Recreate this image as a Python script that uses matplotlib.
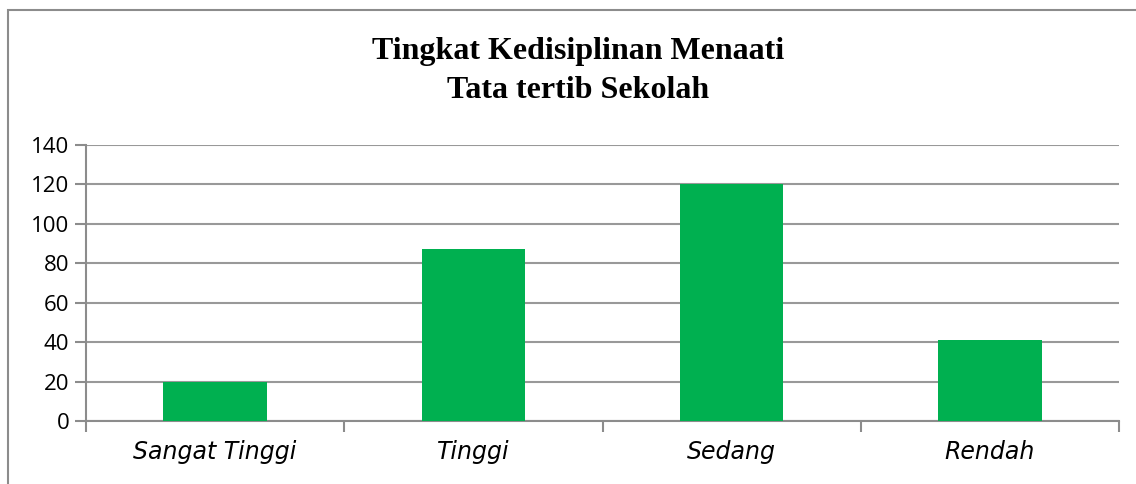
import matplotlib
matplotlib.use("Agg")
import matplotlib.pyplot as plt
from matplotlib.patches import Rectangle

kategori = ["Sangat Tinggi", "Tinggi", "Sedang", "Rendah"]
jumlah = [20, 87, 120, 41]
yticks = [0, 20, 40, 60, 80, 100, 120, 140]

fig = plt.figure(figsize=(11.36, 4.84), dpi=100)
ax = fig.add_axes([86 / 1136, 1 - 421 / 484, (1119 - 86) / 1136, (421 - 145) / 484])

# bingkai grafik
fig.patches.append(Rectangle((8 / 1136, -0.1), 1.2, 1 - 10 / 484 + 0.1,
                             transform=fig.transFigure, fill=False,
                             edgecolor="#8c8c8c", linewidth=1.5))

x = range(len(kategori))
ax.bar(x, jumlah, width=0.4, color="#00b050", zorder=3)
ax.set_xlim(-0.5, len(kategori) - 0.5)
ax.set_ylim(0, 140)
ax.set_yticks(yticks)
ax.set_yticklabels([str(v) for v in yticks], fontsize=16, fontfamily="Open Sans")
ax.yaxis.grid(True, color="#999999", linewidth=1.5, zorder=0)

ax.set_xticks([i - 0.5 for i in range(len(kategori) + 1)], minor=False)
ax.set_xticklabels([])
ax.set_xticks(list(x), minor=True)
ax.set_xticklabels(kategori, minor=True, fontsize=17, fontstyle="italic",
                   fontfamily="DejaVu Sans")
ax.tick_params(axis="x", which="minor", length=0, pad=14)
ax.tick_params(axis="x", which="major", length=8, width=1.5, color="#8c8c8c")
ax.tick_params(axis="y", length=8, width=1.5, color="#8c8c8c", pad=4)

for s in ["top", "right"]:
    ax.spines[s].set_visible(False)
ax.spines["left"].set_color("#8c8c8c")
ax.spines["bottom"].set_color("#8c8c8c")
ax.spines["left"].set_linewidth(1.5)
ax.spines["bottom"].set_linewidth(1.5)

fig.text(578 / 1136, 1 - 71 / 484, "Tingkat Kedisiplinan Menaati\nTata tertib Sekolah",
         ha="center", va="center", fontsize=23, fontweight="bold",
         fontfamily="Liberation Serif", linespacing=1.5)

fig.savefig("out.png", dpi=100)
